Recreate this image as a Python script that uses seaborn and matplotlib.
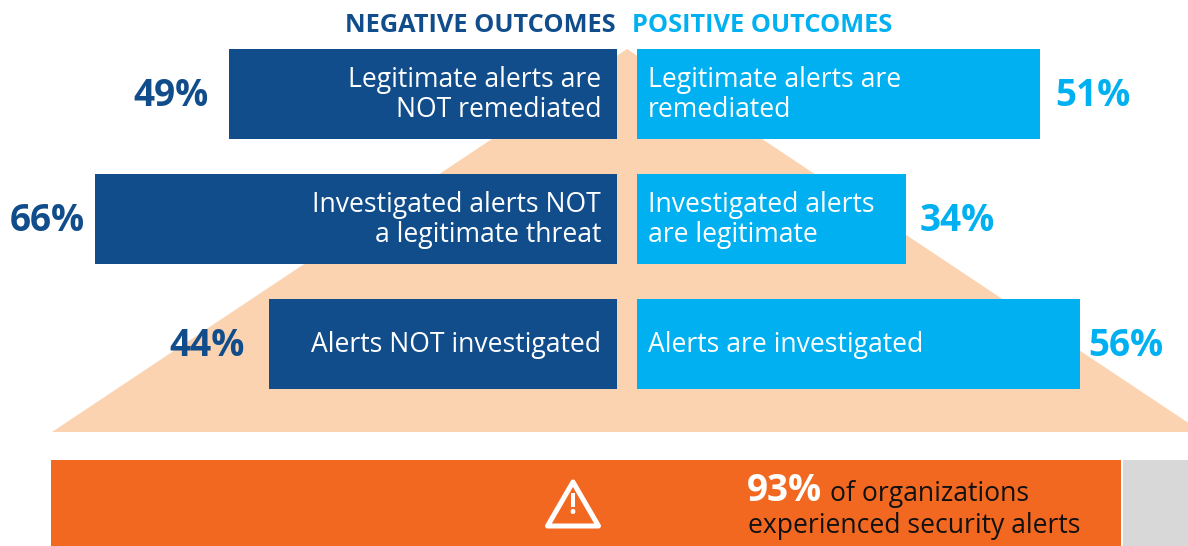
import matplotlib
matplotlib.use("Agg")
import matplotlib.pyplot as plt
from matplotlib.patches import Polygon
import seaborn as sns
import pandas as pd

W, H = 1188, 546
sns.set_theme(style="white")
plt.rcParams['font.family'] = ['Open Sans', 'DejaVu Sans']

outcomes = ["remediated", "legitimate", "investigated"]
negative_values = [49, 66, 44]
positive_values = [51, 34, 56]
negative_labels = ["Legitimate alerts are\nNOT remediated", "Investigated alerts NOT\na legitimate threat", "Alerts NOT investigated"]
positive_labels = ["Legitimate alerts are\nremediated", "Investigated alerts\nare legitimate", "Alerts are investigated"]
negative_title = "NEGATIVE OUTCOMES"
positive_title = "POSITIVE OUTCOMES"
base_segments = ["experienced", "not"]
base_values = [93, 7]
base_big = "93%"
base_line1 = "of organizations"
base_line2 = "experienced security alerts"

NAVY, SKY, PEACH, ORANGE, GREY = "#114D8B", "#00B0F0", "#FBD3B0", "#F36821", "#D8D8D8"
PX = 7.91  # pixels per percent in the top panels
NEG_GAPS = [21, 10, 24]   # px between bar end and value label
POS_GAPS = [15, 14, 8]

def axpx(l, t, r, b):
    return fig.add_axes([l / W, 1 - b / H, (r - l) / W, (b - t) / H])

fig = plt.figure(figsize=(W / 100, H / 100), dpi=100, facecolor="white")

# background pyramid
fig.add_artist(Polygon([(627 / W, 1 - 49 / H), (1202 / W, 1 - 432 / H), (52 / W, 1 - 432 / H)],
                       closed=True, transform=fig.transFigure, fc=PEACH, ec="none", zorder=0))

# top panels
axL = axpx(0, 31.5, 617, 406.5)
axR = axpx(637, 31.5, 1188, 406.5)
for ax, vals, col, labs, side, gaps, inset in [(axL, negative_values, NAVY, negative_labels, -1, NEG_GAPS, 16),
                                               (axR, positive_values, SKY, positive_labels, 1, POS_GAPS, 11)]:
    df = pd.DataFrame({"outcome": outcomes, "value": vals})
    sns.barplot(data=df, y="outcome", x="value", color=col, width=0.72, saturation=1, ax=ax, orient="h", linewidth=0)
    ax.set_xlim(617 / PX, 0) if side < 0 else ax.set_xlim(0, 551 / PX)
    ax.set_ylim(2.5, -0.5)
    ax.axis("off")
    ax.patch.set_alpha(0)
    for i, (v, lab, g) in enumerate(zip(vals, labs, gaps)):
        ax.annotate(lab, (0, i), xytext=(side * inset * 0.72, -0.7), textcoords="offset points",
                    ha="right" if side < 0 else "left", va="center", color="white", fontsize=19.1,
                    linespacing=1.1, clip_on=False)
        ax.annotate(f"{v}%", (v, i), xytext=(side * g * 0.72, -1.2), textcoords="offset points",
                    ha="right" if side < 0 else "left", va="center", color=col, fontsize=26.6,
                    fontweight="bold", clip_on=False)

fig.text(616 / W, 1 - 25.5 / H, negative_title, color=NAVY, fontsize=18.3, fontweight="bold", ha="right", va="center")
fig.text(632 / W, 1 - 25.5 / H, positive_title, color=SKY, fontsize=18.3, fontweight="bold", ha="left", va="center")

# bottom stacked bar
axB = axpx(51.5, 460, 1201.5, 546)
sns.barplot(x=[base_values[0]], y=["all"], color=ORANGE, saturation=1, width=1, ax=axB, orient="h", linewidth=0)
axB.barh(0, base_values[1], left=base_values[0] + 0.17, color=GREY, height=1, linewidth=0)
axB.set_xlim(0, 100)
axB.set_ylim(0.5, -0.5)
axB.axis("off")

# warning icon
fig.add_artist(Polygon([(573 / W, 1 - 482 / H), (598.5 / W, 1 - 526 / H), (547.5 / W, 1 - 526 / H)],
                       closed=True, transform=fig.transFigure, fc="none", ec="white", lw=3.6,
                       joinstyle="round", zorder=5))
fig.text(572.5 / W, 1 - 507 / H, "!", color="white", fontsize=20, fontweight="bold", ha="center", va="center", zorder=6)

fig.text(747 / W, 1 - 491 / H, base_big, color="white", fontsize=26.6, fontweight="bold", ha="left", va="center", zorder=6)
fig.text(830 / W, 1 - 494 / H, base_line1, color="#111111", fontsize=19.1, ha="left", va="center", zorder=6)
fig.text(748 / W, 1 - 526 / H, base_line2, color="#111111", fontsize=19.1, ha="left", va="center", zorder=6)

fig.savefig("out.png", dpi=100, facecolor="white")
